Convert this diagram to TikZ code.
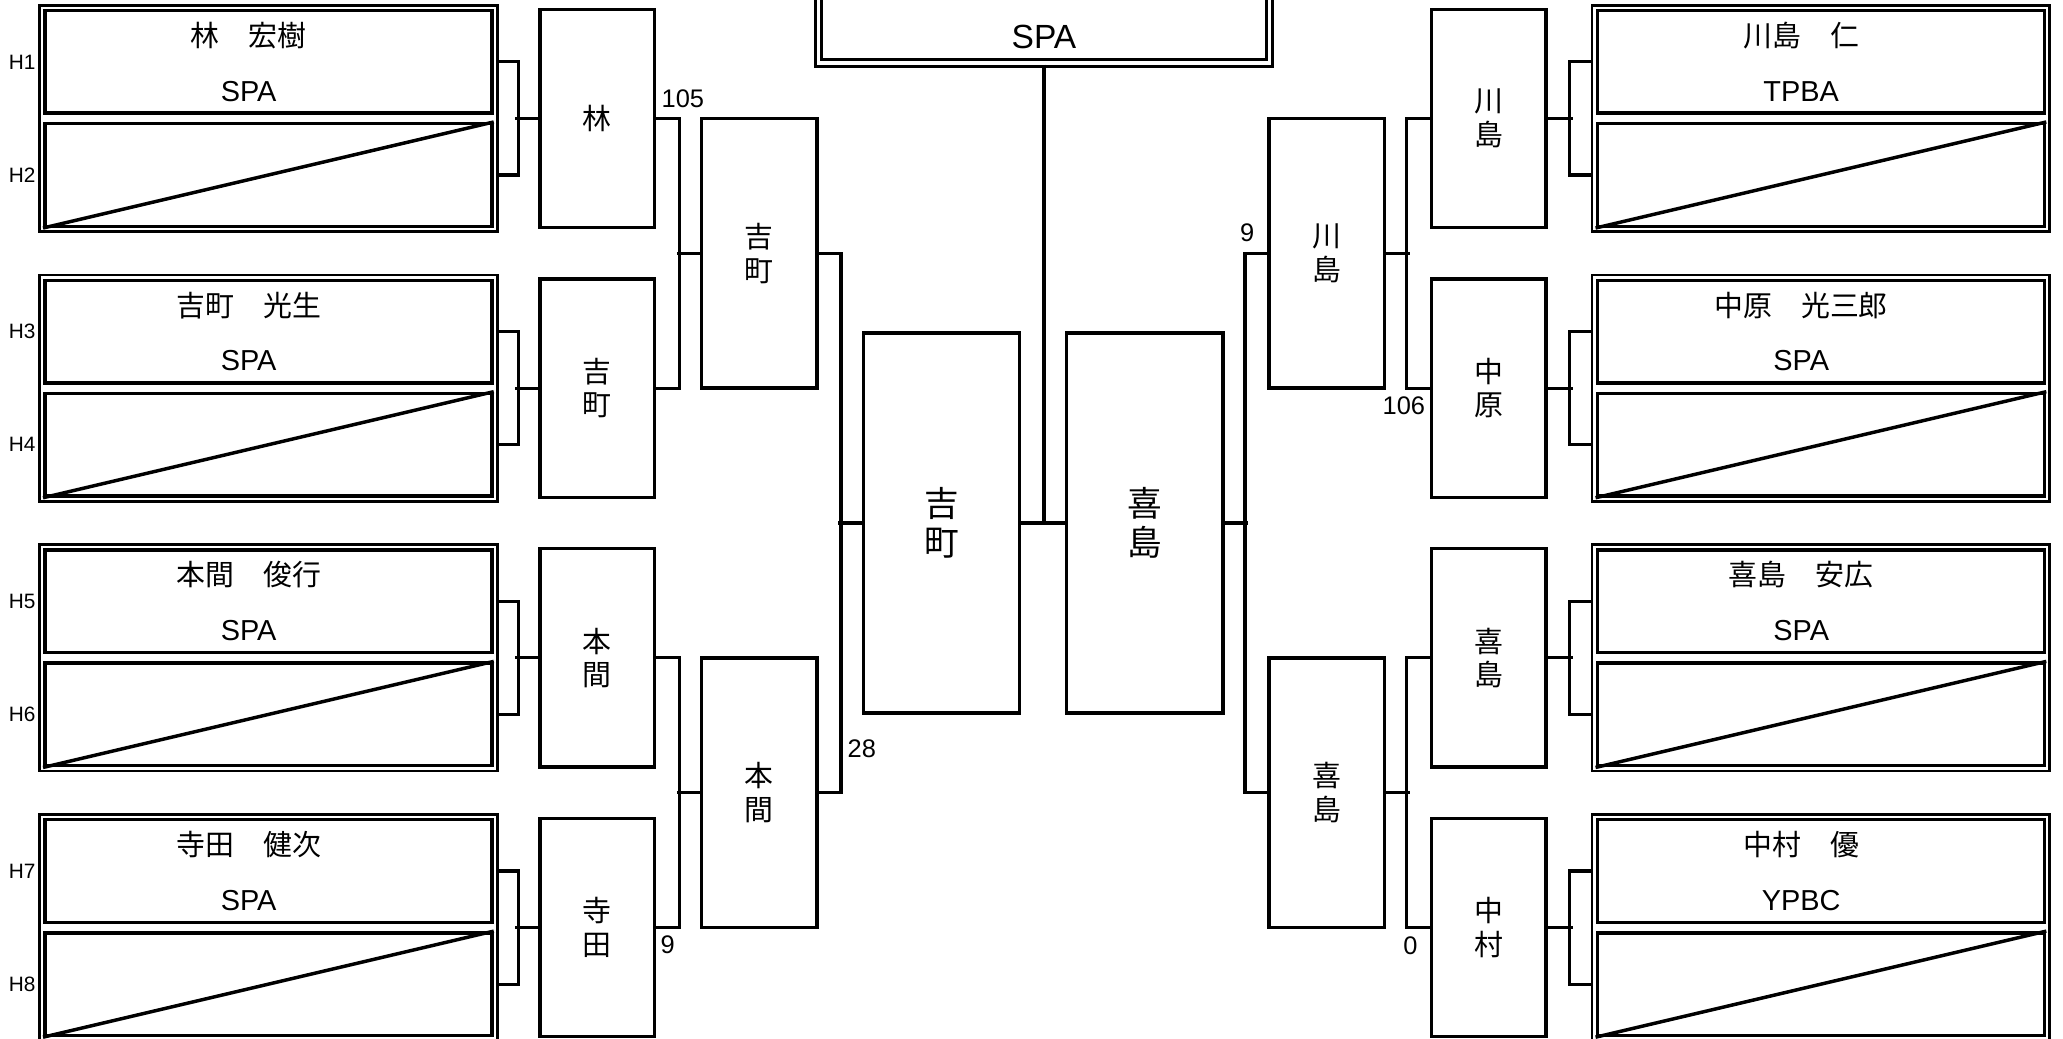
\documentclass[tikz,border=0pt]{standalone}
\usepackage{fontspec}
\setmainfont{Liberation Sans}
\newfontfamily\jp{Noto Sans CJK JP}

\begin{document}
\begin{tikzpicture}[x=0.02cm, y=-0.02cm,
    frame/.style={draw, rectangle, line width=1.2pt, inner sep=0pt, minimum width=6.96cm, minimum height=3.44cm},
    cell/.style={draw, rectangle, line width=1.5pt, inner sep=0pt, minimum width=6.8cm, minimum height=1.56cm, align=center, font=\fontsize{12.5}{15}\selectfont},
    rbox/.style={draw, rectangle, line width=1.4pt, inner sep=0pt, minimum width=1.74cm, minimum height=3.32cm, align=center, font=\jp\fontsize{12.5}{14.5}\selectfont},
    sbox/.style={rbox, minimum width=1.76cm, minimum height=4.1cm},
    fbox/.style={rbox, minimum width=2.38cm, minimum height=5.78cm, font=\jp\fontsize{15}{17}\selectfont},
    hlab/.style={anchor=east, inner sep=1pt, font=\fontsize{9}{10}\selectfont},
    score/.style={inner sep=0pt, font=\fontsize{11}{12}\selectfont},
    link/.style={line width=1.4pt},
    diag/.style={line width=1.5pt}]
    \useasboundingbox (0,0) rectangle (1568,789);
    \clip (0,0) rectangle (1568,789);

    % final
    \node[draw, double, double distance=1.6pt, line width=1.3pt, inner sep=0pt, minimum width=6.86cm, minimum height=2cm, text height=46pt, text depth=1.5pt, font=\fontsize{14.5}{16}\selectfont] (champ) at (793.5,-2) {SPA};

    % left entries
    \node[frame] (fl1) at (204,90) {};
    \node[cell] (h1) at (204,47) {{\jp 林　宏樹}\hspace*{6mm}\\[8.7pt]SPA\hspace*{6mm}};
    \node[cell] (h2) at (204,133) {};
    \node[frame] (fl2) at (204,295) {};
    \node[cell] (h3) at (204,252) {{\jp 吉町　光生}\hspace*{6mm}\\[8.7pt]SPA\hspace*{6mm}};
    \node[cell] (h4) at (204,338) {};
    \node[frame] (fl3) at (204,500) {};
    \node[cell] (h5) at (204,457) {{\jp 本間　俊行}\hspace*{6mm}\\[8.7pt]SPA\hspace*{6mm}};
    \node[cell] (h6) at (204,543) {};
    \node[frame] (fl4) at (204,705) {};
    \node[cell] (h7) at (204,662) {{\jp 寺田　健次}\hspace*{6mm}\\[8.7pt]SPA\hspace*{6mm}};
    \node[cell] (h8) at (204,748) {};
    \draw[diag] (h2.south west) -- (h2.north east);
    \draw[diag] (h4.south west) -- (h4.north east);
    \draw[diag] (h6.south west) -- (h6.north east);
    \draw[diag] (h8.south west) -- (h8.north east);

    \node[hlab] (lh1) at (fl1.west |- h1) {H1};
    \node[hlab] (lh2) at (fl1.west |- h2) {H2};
    \node[hlab] (lh3) at (fl2.west |- h3) {H3};
    \node[hlab] (lh4) at (fl2.west |- h4) {H4};
    \node[hlab] (lh5) at (fl3.west |- h5) {H5};
    \node[hlab] (lh6) at (fl3.west |- h6) {H6};
    \node[hlab] (lh7) at (fl4.west |- h7) {H7};
    \node[hlab] (lh8) at (fl4.west |- h8) {H8};

    % right entries
    \node[frame] (fr1) at (1384,90) {};
    \node[cell] (k1) at (1384,47) {{\jp 川島　仁}\hspace*{6mm}\\[8.7pt]TPBA\hspace*{6mm}};
    \node[cell] (k2) at (1384,133) {};
    \node[frame] (fr2) at (1384,295) {};
    \node[cell] (k3) at (1384,252) {{\jp 中原　光三郎}\hspace*{6mm}\\[8.7pt]SPA\hspace*{6mm}};
    \node[cell] (k4) at (1384,338) {};
    \node[frame] (fr3) at (1384,500) {};
    \node[cell] (k5) at (1384,457) {{\jp 喜島　安広}\hspace*{6mm}\\[8.7pt]SPA\hspace*{6mm}};
    \node[cell] (k6) at (1384,543) {};
    \node[frame] (fr4) at (1384,705) {};
    \node[cell] (k7) at (1384,662) {{\jp 中村　優}\hspace*{6mm}\\[8.7pt]YPBC\hspace*{6mm}};
    \node[cell] (k8) at (1384,748) {};
    \draw[diag] (k2.south west) -- (k2.north east);
    \draw[diag] (k4.south west) -- (k4.north east);
    \draw[diag] (k6.south west) -- (k6.north east);
    \draw[diag] (k8.south west) -- (k8.north east);

    % rounds, left
    \node[rbox] (hayashi) at (454,90) {林};
    \node[rbox] (yoshi1) at (454,295) {吉\\町};
    \node[rbox] (honma1) at (454,500) {本\\間};
    \node[rbox] (terada) at (454,705) {寺\\田};
    \node[sbox] (yoshi2) at (577,192.5) {吉\\町};
    \node[sbox] (honma2) at (577,602.5) {本\\間};
    \node[fbox] (yoshi3) at (715.5,397.5) {吉\\町};

    % rounds, right
    \node[fbox] (kishima3) at (870,397.5) {喜\\島};
    \node[sbox] (kawa2) at (1008.5,192.5) {川\\島};
    \node[sbox] (kishima2) at (1008.5,602.5) {喜\\島};
    \node[rbox] (kawa1) at (1131.5,90) {川\\島};
    \node[rbox] (naka1) at (1131.5,295) {中\\原};
    \node[rbox] (kishima1) at (1131.5,500) {喜\\島};
    \node[rbox] (nakamura) at (1131.5,705) {中\\村};

    % brackets
    \draw[link] (fl1.east |- h1) -- ++(15,0) |- (fl1.east |- h2);
    \draw[link] (fl2.east |- h3) -- ++(15,0) |- (fl2.east |- h4);
    \draw[link] (fl3.east |- h5) -- ++(15,0) |- (fl3.east |- h6);
    \draw[link] (fl4.east |- h7) -- ++(15,0) |- (fl4.east |- h8);
    \draw[link] (hayashi.west) -- ++(-18,0);
    \draw[link] (yoshi1.west) -- ++(-18,0);
    \draw[link] (honma1.west) -- ++(-18,0);
    \draw[link] (terada.west) -- ++(-18,0);

    \draw[link] (fr1.west |- k1) -- ++(-16,0) |- (fr1.west |- k2);
    \draw[link] (fr2.west |- k3) -- ++(-16,0) |- (fr2.west |- k4);
    \draw[link] (fr3.west |- k5) -- ++(-16,0) |- (fr3.west |- k6);
    \draw[link] (fr4.west |- k7) -- ++(-16,0) |- (fr4.west |- k8);
    \draw[link] (kawa1.east) -- ++(19,0);
    \draw[link] (naka1.east) -- ++(19,0);
    \draw[link] (kishima1.east) -- ++(19,0);
    \draw[link] (nakamura.east) -- ++(19,0);

    \draw[link] (hayashi.east) -- ++(18,0) |- (yoshi1.east);
    \draw[link] (yoshi2.west) -- ++(-17.5,0);
    \draw[link] (honma1.east) -- ++(18,0) |- (terada.east);
    \draw[link] (honma2.west) -- ++(-17.5,0);
    \draw[link] (yoshi2.east) -- ++(17,0) |- (honma2.east);
    \draw[link] (yoshi3.west) -- ++(-18,0);
    \draw[link] (yoshi3.east) -- (kishima3.west);
    \draw[link] (champ.south) -- (champ.south |- yoshi3.east);
    \draw[link] (kishima3.east) -- ++(18,0);
    \draw[link] (kawa2.west) -- ++(-17,0) |- (kishima2.west);
    \draw[link] (kawa2.east) -- ++(18,0);
    \draw[link] (kawa1.west) -- ++(-17.5,0) |- (naka1.west);
    \draw[link] (kishima2.east) -- ++(18,0);
    \draw[link] (kishima1.west) -- ++(-17.5,0) |- (nakamura.west);

    % scores
    \node[score] (p1) at (519,75) {105};
    \node[score] (p2) at (655,569) {28};
    \node[score] (p3) at (507.5,718) {9};
    \node[score] (p4) at (948,177) {9};
    \node[score] (p5) at (1067,308) {106};
    \node[score] (p6) at (1072,719) {0};
\end{tikzpicture}
\end{document}
